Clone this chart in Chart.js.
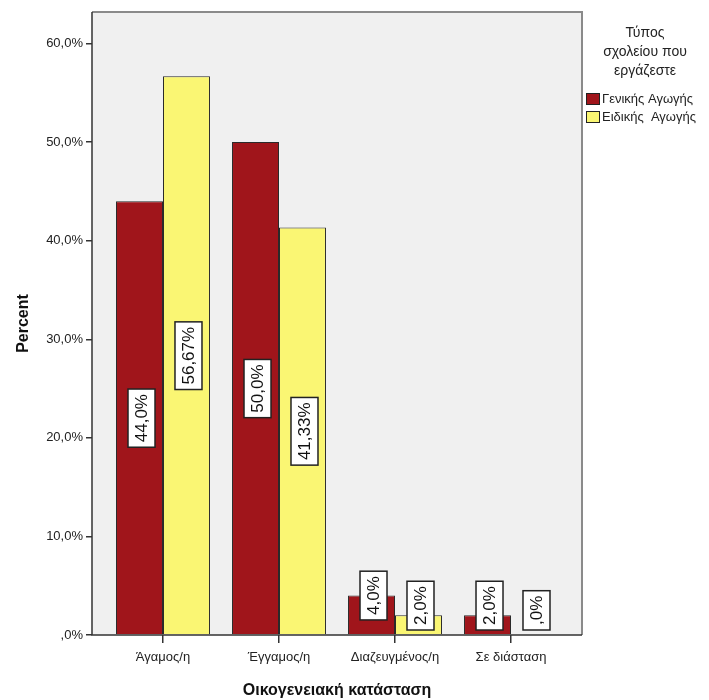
<!DOCTYPE html>
<html>
<head>
<meta charset="utf-8">
<script src="https://cdn.jsdelivr.net/npm/chart.js@4.4.1/dist/chart.umd.min.js"></script>
<style>
  html, body { margin: 0; padding: 0; background: #ffffff; }
  #wrap { width: 709px; height: 700px; }
</style>
</head>
<body>
<div id="wrap"><canvas id="grafico"></canvas></div>
<script>
// Datos
const categorias = ["Άγαμος/η", "Έγγαμος/η", "Διαζευγμένος/η", "Σε διάσταση"];
const genikis = [44.0, 50.0, 4.0, 2.0];
const eidikis = [56.67, 41.33, 2.0, 0.0];
const etiquetasGenikis = ["44,0%", "50,0%", "4,0%", "2,0%"];
const etiquetasEidikis = ["56,67%", "41,33%", "2,0%", ",0%"];
const ticksY = [0, 10, 20, 30, 40, 50, 60];
const tituloLeyenda = ["Τύπος", "σχολείου που", "εργάζεστε"];
const nombresSeries = ["Γενικής Αγωγής", "Ειδικής  Αγωγής"];

const FUENTE = '"Liberation Sans", Arial, sans-serif';
const ROJO = '#a0151b';
const AMARILLO = '#faf673';

// Fondo y marco del área
const marcoPlugin = {
    id: 'marco',
    beforeDraw(chart) {
        const { ctx, chartArea: a } = chart;
        ctx.save();
        ctx.fillStyle = '#f0f0f0';
        ctx.fillRect(a.left, a.top, a.right - a.left, a.bottom - a.top);
        ctx.restore();
    },
    afterDatasetsDraw(chart) {
        const { ctx, chartArea: a } = chart;
        ctx.save();
        ctx.strokeStyle = '#8a8a8a';
        ctx.lineWidth = 2;
        ctx.beginPath();
        ctx.moveTo(a.left, a.top);
        ctx.lineTo(a.right, a.top);
        ctx.lineTo(a.right, a.bottom);
        ctx.stroke();
        ctx.strokeStyle = '#333';
        ctx.lineWidth = 1.5;
        ctx.beginPath();
        ctx.moveTo(a.left, a.top);
        ctx.lineTo(a.left, a.bottom);
        ctx.lineTo(a.right, a.bottom);
        ctx.stroke();
        ctx.restore();
    }
};

// Etiquetas giradas en cajas blancas
const etiquetasPlugin = {
    id: 'etiquetas',
    afterDatasetsDraw(chart) {
        const { ctx } = chart;
        const base = chart.scales.y.getPixelForValue(0);
        const listas = [etiquetasGenikis, etiquetasEidikis];
        ctx.save();
        ctx.font = '17px ' + FUENTE;
        chart.data.datasets.forEach((ds, di) => {
            chart.getDatasetMeta(di).data.forEach((bar, i) => {
                const texto = listas[di][i];
                const w = ctx.measureText(texto).width;
                const h = w + 10;
                const bw = 27;
                const alto = base - bar.y;
                let cy;
                if (alto > h + 10) {
                    cy = (bar.y + base) / 2;
                } else {
                    cy = Math.min(bar.y, base - 5 - h / 2);
                }
                const cx = bar.x + 2;
                ctx.fillStyle = '#ffffff';
                ctx.fillRect(cx - bw / 2, cy - h / 2, bw, h);
                ctx.strokeStyle = '#222';
                ctx.lineWidth = 1.5;
                ctx.strokeRect(cx - bw / 2, cy - h / 2, bw, h);
                ctx.translate(cx, cy);
                ctx.rotate(-Math.PI / 2);
                ctx.fillStyle = '#111';
                ctx.textAlign = 'center';
                ctx.textBaseline = 'middle';
                ctx.fillText(texto, 0, 1);
                ctx.setTransform(1, 0, 0, 1, 0, 0);
            });
        });
        ctx.restore();
    }
};

// Leyenda a la derecha
const leyendaPlugin = {
    id: 'leyenda',
    afterDraw(chart) {
        const { ctx } = chart;
        ctx.save();
        ctx.fillStyle = '#222';
        ctx.font = '14px ' + FUENTE;
        ctx.textAlign = 'center';
        ctx.textBaseline = 'middle';
        tituloLeyenda.forEach((l, i) => ctx.fillText(l, 645, 33 + i * 19));
        const colores = [ROJO, AMARILLO];
        ctx.font = '13px ' + FUENTE;
        ctx.textAlign = 'left';
        nombresSeries.forEach((n, i) => {
            const y = 93 + i * 18;
            ctx.fillStyle = colores[i];
            ctx.fillRect(586, y, 13, 11);
            ctx.strokeStyle = '#222';
            ctx.lineWidth = 1;
            ctx.strokeRect(586.5, y + 0.5, 13, 11);
            ctx.fillStyle = '#222';
            ctx.fillText(n, 602, y + 6);
        });
        ctx.restore();
    }
};

const ctx = document.getElementById('grafico');

new Chart(ctx, {
    type: 'bar',
    data: {
        datasets: [{
            label: nombresSeries[0],
            data: genikis.map((v, i) => ({ x: i, y: v })),
            backgroundColor: ROJO,
            borderColor: '#2a2a2a',
            borderWidth: 1
        }, {
            label: nombresSeries[1],
            data: eidikis.map((v, i) => ({ x: i, y: v })),
            backgroundColor: AMARILLO,
            borderColor: '#2a2a2a',
            borderWidth: 1
        }]
    },
    options: {
        responsive: true,
        maintainAspectRatio: false,
        animation: false,
        categoryPercentage: 0.81,
        barPercentage: 1,
        layout: { padding: { top: 12, right: 127, left: 0, bottom: 0 } },
        plugins: {
            legend: { display: false },
            tooltip: { enabled: false }
        },
        scales: {
            x: {
                type: 'linear',
                offset: false,
                min: -0.612,
                max: 3.612,
                afterBuildTicks: s => { s.ticks = categorias.map((_, i) => ({ value: i })); },
                afterFit: s => { s.height = 65; },
                grid: { offset: false, drawOnChartArea: false, drawTicks: true, tickLength: 8, color: '#333', lineWidth: 1.5 },
                border: { display: false },
                ticks: {
                    padding: 7,
                    color: '#222',
                    font: { family: FUENTE, size: 13 },
                    maxRotation: 0,
                    autoSkip: false,
                    callback: v => categorias[v]
                },
                title: {
                    display: true,
                    text: 'Οικογενειακή κατάσταση',
                    color: '#111',
                    font: { family: FUENTE, size: 16, weight: 'bold' },
                    padding: { top: 8, bottom: 0 }
                }
            },
            y: {
                min: 0,
                max: 63.2,
                afterBuildTicks: s => { s.ticks = ticksY.map(v => ({ value: v })); },
                afterFit: s => { s.width = 92; },
                grid: { drawOnChartArea: false, drawTicks: true, tickLength: 6, color: '#333', lineWidth: 1.5 },
                border: { display: false },
                ticks: {
                    padding: 3,
                    color: '#222',
                    font: { family: FUENTE, size: 13 },
                    callback: v => (v === 0 ? '' : v.toFixed(1).replace('.', ',').replace(/^0/, '')) + (v === 0 ? ',0%' : '%')
                },
                title: {
                    display: true,
                    text: 'Percent',
                    color: '#111',
                    font: { family: FUENTE, size: 16, weight: 'bold' },
                    padding: { top: 14, bottom: 0 }
                }
            }
        }
    },
    plugins: [marcoPlugin, etiquetasPlugin, leyendaPlugin]
});
</script>
</body>
</html>
